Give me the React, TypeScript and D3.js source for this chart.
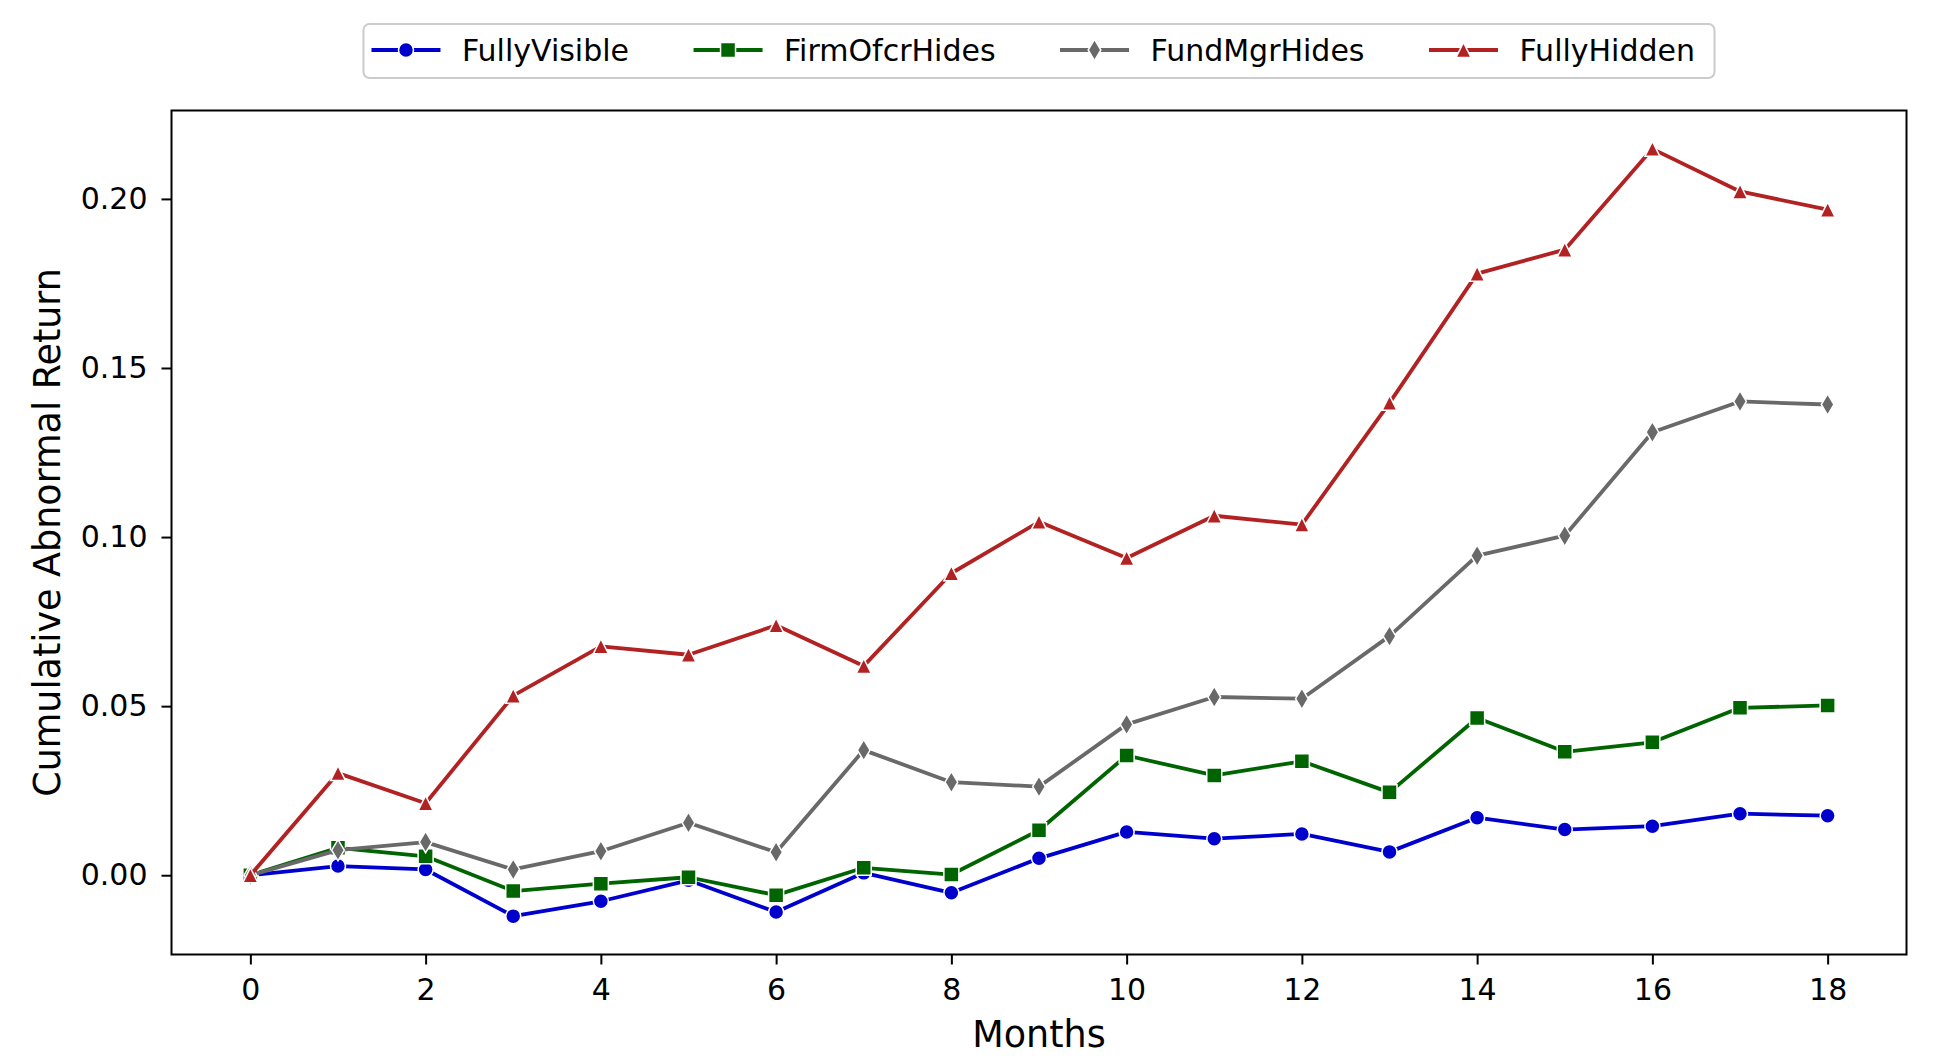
import React, { useEffect, useRef } from 'react';
import * as d3 from 'd3';

// cumulative abnormal return by month after the event, one series per visibility group
const months = [0, 1, 2, 3, 4, 5, 6, 7, 8, 9, 10, 11, 12, 13, 14, 15, 16, 17, 18];
const fullyVisible = [0, 0.0027, 0.0017, -0.0121, -0.0077, -0.0015, -0.0109, 0.0007, -0.0052, 0.005, 0.0128, 0.0108, 0.0122, 0.0069, 0.017, 0.0135, 0.0145, 0.0182, 0.0176];
const firmOfcrHides = [0, 0.0081, 0.0056, -0.0047, -0.0025, -0.0006, -0.0059, 0.0022, 0.0002, 0.0133, 0.0354, 0.0295, 0.0337, 0.0245, 0.0465, 0.0365, 0.0393, 0.0495, 0.0502];
const fundMgrHides = [0, 0.0074, 0.0098, 0.0017, 0.0071, 0.0155, 0.0068, 0.037, 0.0275, 0.0262, 0.0446, 0.0527, 0.0522, 0.0707, 0.0945, 0.1004, 0.131, 0.1401, 0.1392];
const fullyHidden = [0, 0.0302, 0.0213, 0.0531, 0.0677, 0.0652, 0.0739, 0.0619, 0.0893, 0.1045, 0.0938, 0.1063, 0.1037, 0.1397, 0.1779, 0.185, 0.2148, 0.2022, 0.1968];

const seriesNames = ['FullyVisible', 'FirmOfcrHides', 'FundMgrHides', 'FullyHidden'];
const seriesValues = [fullyVisible, firmOfcrHides, fundMgrHides, fullyHidden];
const seriesColors = ['#0000cd', '#006400', '#696969', '#b22222'];
const seriesMarkers = ['circle', 'square', 'thinDiamond', 'triangle'];

const xTicks = [0, 2, 4, 6, 8, 10, 12, 14, 16, 18];
const yTicks = [0, 0.05, 0.1, 0.15, 0.2];

const W = 1939;
const H = 1063;
const FONT = 'DejaVu Sans, Verdana, sans-serif';

// marker outlines centred on 0,0 (s = marker size in px)
function markerPath(kind: string, s: number): string {
  const h = s / 2;
  if (kind === 'circle') {
    return d3.symbol(d3.symbolCircle, Math.PI * h * h)() as string;
  }
  if (kind === 'square') {
    return `M${-h},${-h}h${s}v${s}h${-s}Z`;
  }
  if (kind === 'triangle') {
    return `M0,${-h}L${h},${h}L${-h},${h}Z`;
  }
  // thin diamond: rotated square squeezed horizontally
  const r = s * Math.SQRT1_2;
  return `M0,${-r}L${0.6 * r},0L0,${r}L${-0.6 * r},0Z`;
}

export default function App() {
  const ref = useRef<SVGSVGElement>(null);

  useEffect(() => {
    const svg = d3.select(ref.current);
    svg.selectAll('*').remove();

    const left = 171.5, right = 1906.5, top = 110.5, bottom = 954.5;

    const allValues = seriesValues.flat();
    const [lo, hi] = d3.extent(allValues) as [number, number];
    const pad = (hi - lo) * 0.05;
    const xPad = (months[months.length - 1] - months[0]) * 0.05;

    const x = d3.scaleLinear()
      .domain([months[0] - xPad, months[months.length - 1] + xPad])
      .range([left, right]);
    const y = d3.scaleLinear()
      .domain([lo - pad, hi + pad])
      .range([bottom, top]);

    svg.append('rect').attr('width', W).attr('height', H).attr('fill', '#fff');

    // lines and markers
    const line = d3.line<number>()
      .x((d, i) => x(months[i]))
      .y(d => y(d));

    const markerSize = 15;
    seriesValues.forEach((vals, k) => {
      const g = svg.append('g');
      g.append('path')
        .datum(vals)
        .attr('d', line)
        .attr('fill', 'none')
        .attr('stroke', seriesColors[k])
        .attr('stroke-width', 3.8)
        .attr('stroke-linejoin', 'round')
        .attr('stroke-linecap', 'round');
      g.selectAll('path.mk')
        .data(vals)
        .enter()
        .append('path')
        .attr('class', 'mk')
        .attr('d', markerPath(seriesMarkers[k], markerSize))
        .attr('transform', (d, i) => `translate(${x(months[i])},${y(d)})`)
        .attr('fill', seriesColors[k])
        .attr('stroke', '#fff')
        .attr('stroke-width', 1.5);
    });

    // axes
    const xAxis = svg.append('g')
      .attr('transform', `translate(0,${bottom})`)
      .call(d3.axisBottom(x).tickValues(xTicks).tickSize(10).tickPadding(14).tickFormat(d3.format('d')));
    const yAxis = svg.append('g')
      .attr('transform', `translate(${left},0)`)
      .call(d3.axisLeft(y).tickValues(yTicks).tickSize(10).tickPadding(14).tickFormat(d3.format('.2f')));

    [xAxis, yAxis].forEach(ax => {
      ax.select('.domain').remove();
      ax.selectAll('line').attr('stroke', '#000').attr('stroke-width', 2);
      ax.selectAll('text')
        .attr('fill', '#000')
        .style('font-family', FONT)
        .style('font-size', '30px');
    });

    // frame
    svg.append('rect')
      .attr('x', left)
      .attr('y', top)
      .attr('width', right - left)
      .attr('height', bottom - top)
      .attr('fill', 'none')
      .attr('stroke', '#000')
      .attr('stroke-width', 2);

    // axis titles
    svg.append('text')
      .attr('x', (left + right) / 2)
      .attr('y', 1047)
      .attr('text-anchor', 'middle')
      .style('font-family', FONT)
      .style('font-size', '36.5px')
      .text('Months');

    svg.append('text')
      .attr('transform', `translate(47,${(top + bottom) / 2}) rotate(-90)`)
      .attr('text-anchor', 'middle')
      .attr('dominant-baseline', 'central')
      .style('font-family', FONT)
      .style('font-size', '36.5px')
      .text('Cumulative Abnormal Return');

    // legend above the plot, one row
    const legend = svg.append('g');
    const box = legend.append('rect');
    const handleLen = 69, handleGap = 21.5, colGap = 64.5, legendY = 50;
    let cx = 0;
    seriesNames.forEach((name, k) => {
      legend.append('line')
        .attr('x1', cx).attr('x2', cx + handleLen)
        .attr('y1', legendY).attr('y2', legendY)
        .attr('stroke', seriesColors[k])
        .attr('stroke-width', 3.8);
      legend.append('path')
        .attr('d', markerPath(seriesMarkers[k], markerSize))
        .attr('transform', `translate(${cx + handleLen / 2},${legendY})`)
        .attr('fill', seriesColors[k])
        .attr('stroke', '#fff')
        .attr('stroke-width', 1.5);
      const t = legend.append('text')
        .attr('x', cx + handleLen + handleGap)
        .attr('y', 60.5)
        .style('font-family', FONT)
        .style('font-size', '30px')
        .text(name);
      const tw = (t.node() as SVGTextElement).getComputedTextLength();
      cx += handleLen + handleGap + tw + (k < seriesNames.length - 1 ? colGap : 0);
    });
    const padL = 8, padR = 19.5;
    const boxW = cx + padL + padR;
    const shift = (left + right) / 2 - boxW / 2 + padL;
    legend.selectAll('line, path, text').attr('transform', function () {
      const prev = d3.select(this).attr('transform') || '';
      return `translate(${shift},0) ${prev}`;
    });
    box
      .attr('x', shift - padL)
      .attr('y', 24)
      .attr('width', boxW)
      .attr('height', 54)
      .attr('rx', 6)
      .attr('fill', '#fff')
      .attr('fill-opacity', 0.8)
      .attr('stroke', '#cccccc')
      .attr('stroke-width', 2);
  }, []);

  return (
    <svg
      ref={ref}
      width={W}
      height={H}
      style={{ position: 'absolute', left: 0, top: 0, display: 'block' }}
    />
  );
}
